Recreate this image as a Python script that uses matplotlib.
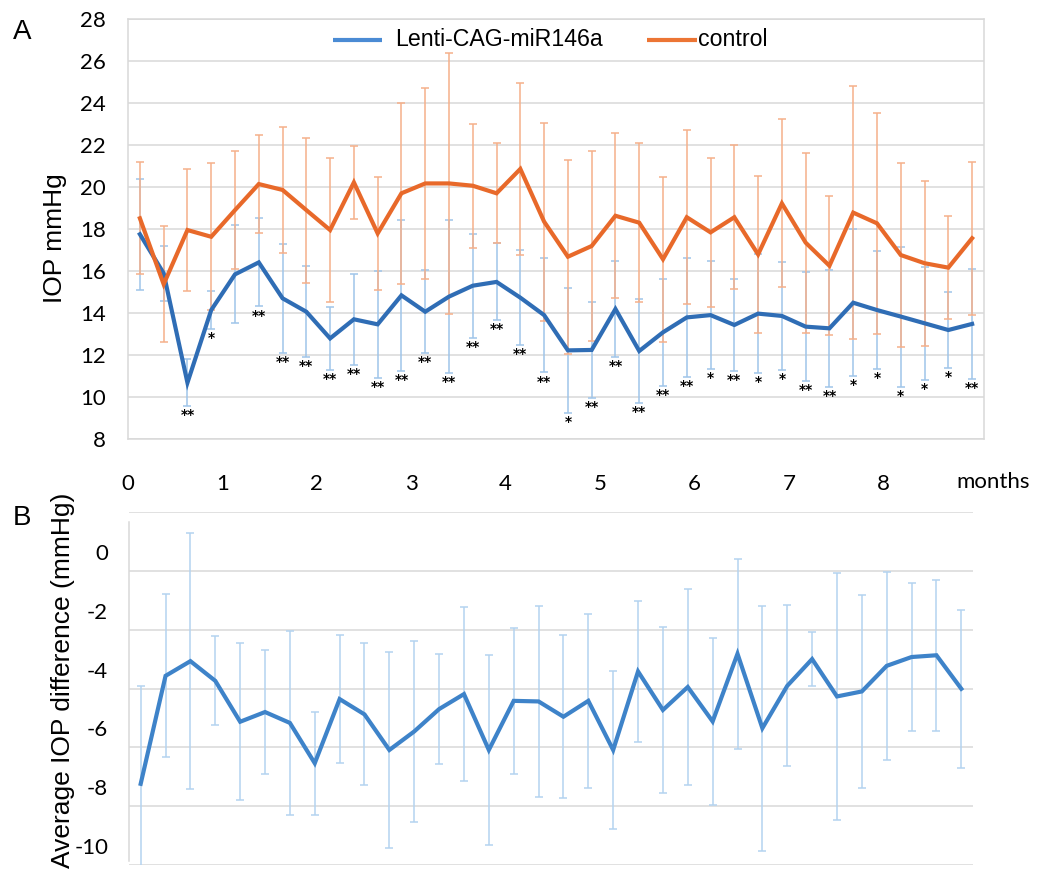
import numpy as np
import matplotlib
matplotlib.use("Agg")
import matplotlib.pyplot as plt
from matplotlib.transforms import ScaledTranslation

# ---- Panel A: weekly IOP of treated vs control eyes ----
miR146a_iop = [17.75, 15.89, 10.68, 14.14, 15.84, 16.41, 14.70, 14.06, 12.79, 13.70,
               13.46, 14.84, 14.06, 14.78, 15.30, 15.48, 14.73, 13.90, 12.22, 12.24,
               14.19, 12.19, 13.08, 13.79, 13.90, 13.43, 13.97, 13.86, 13.35, 13.27,
               14.49, 14.14, 13.83, 13.51, 13.19, 13.48]
miR146a_sd = [2.65, 1.32, 1.11, 0.92, 2.33, 2.10, 2.60, 2.17, 1.50, 2.17,
              2.55, 3.60, 1.98, 3.65, 2.48, 1.83, 2.25, 2.73, 2.96, 2.30,
              2.30, 2.46, 2.55, 2.83, 2.56, 2.17, 2.84, 2.57, 2.60, 2.78,
              3.50, 2.80, 3.33, 2.70, 1.80, 2.62]
control_iop = [18.51, 15.37, 17.95, 17.63, 18.90, 20.14, 19.86, 18.90, 17.95, 20.22,
               17.79, 19.70, 20.17, 20.17, 20.06, 19.70, 20.86, 18.35, 16.68, 17.19,
               18.63, 18.30, 16.56, 18.56, 17.84, 18.56, 16.79, 19.22, 17.35, 16.25,
               18.78, 18.27, 16.76, 16.37, 16.16, 17.56]
control_sd = [2.67, 2.75, 2.90, 3.50, 2.81, 2.33, 3.00, 3.45, 3.43, 1.72,
              2.71, 4.32, 4.55, 6.20, 2.95, 2.38, 4.08, 4.72, 4.62, 4.52,
              3.93, 3.78, 3.93, 4.14, 3.54, 3.42, 3.75, 4.00, 4.29, 3.30,
              6.03, 5.25, 4.37, 3.93, 2.44, 3.65]
significance = ["", "", "**", "*", "", "**", "**", "**", "**", "**",
                "**", "**", "**", "**", "**", "**", "**", "**", "*", "**",
                "**", "**", "**", "**", "*", "**", "*", "*", "**", "**",
                "*", "*", "*", "*", "*", "**"]
month_labels = ["0", "1", "2", "3", "4", "5", "6", "7", "8"]
weeks_per_month = 3.97

# ---- Panel B: average IOP difference ----
iop_difference = [-7.24, -3.57, -3.07, -3.74, -5.13, -4.80, -5.17, -6.54, -4.36, -4.88,
                  -6.09, -5.46, -4.70, -4.19, -6.09, -4.42, -4.44, -4.96, -4.42, -6.09,
                  -3.42, -4.73, -3.95, -5.12, -2.82, -5.35, -3.91, -3.00, -4.27, -4.10,
                  -3.23, -2.93, -2.87, -4.01]
difference_sd = [3.34, 2.77, 4.36, 1.51, 2.67, 2.11, 3.13, 1.75, 2.17, 2.41,
                 3.34, 3.09, 1.86, 2.97, 3.24, 2.47, 3.25, 2.77, 2.96, 2.70,
                 2.39, 2.81, 3.34, 2.84, 3.22, 4.16, 2.74, 0.91, 4.19, 3.29,
                 3.20, 2.52, 2.56, 2.69]

BLUE = "#2F6DB5"
BLUE_LEG = "#4A8BD4"
BLUE_ERR = "#9FC5EA"
ORANGE = "#E8692A"
ORANGE_LEG = "#EC7534"
ORANGE_ERR = "#F5B08A"
B_LINE = "#3E83C9"
B_ERR = "#B4D3F0"
GRID = "#D9D9D9"
TICK_FONT = "Lato"
TEXT_FONT = "Liberation Sans"

W, H = 1041, 869
fig = plt.figure(figsize=(W / 100, H / 100), dpi=100)


def fig_box(left, top, right, bottom):
    return [left / W, 1 - bottom / H, (right - left) / W, (bottom - top) / H]


# ================= Panel A =================
axA = fig.add_axes(fig_box(128, 19, 984, 439))
xa = np.arange(1, len(miR146a_iop) + 1)

axA.errorbar(xa, miR146a_iop, yerr=miR146a_sd, fmt="none", ecolor=BLUE_ERR,
             elinewidth=1.1, capsize=3.2, capthick=1.1, zorder=2)
axA.errorbar(xa, control_iop, yerr=control_sd, fmt="none", ecolor=ORANGE_ERR,
             elinewidth=1.1, capsize=3.2, capthick=1.1, zorder=2)
axA.plot(xa, miR146a_iop, color=BLUE, lw=3.0, solid_joinstyle="miter", zorder=3)
axA.plot(xa, control_iop, color=ORANGE, lw=3.0, solid_joinstyle="miter", zorder=4)

for x, m, s, mark in zip(xa, miR146a_iop, miR146a_sd, significance):
    if mark:
        axA.annotate(mark, (x, m - s), xytext=(0, -1.5), textcoords="offset points",
                     ha="center", va="top", fontsize=10, fontweight="bold",
                     family="DejaVu Sans", color="black", zorder=5)

axA.set_xlim(0.5, len(xa) + 0.5)
axA.set_ylim(8, 28)
axA.set_yticks(np.arange(8, 29, 2))
axA.set_xticks([0.5 + weeks_per_month * i for i in range(len(month_labels))])
axA.set_xticklabels(month_labels)
axA.grid(axis="y", color=GRID, lw=1.1, zorder=0)
axA.set_axisbelow(True)
for sp in axA.spines.values():
    sp.set_color(GRID)
    sp.set_linewidth(1.1)
axA.tick_params(axis="y", length=0, pad=16, labelsize=16)
axA.tick_params(axis="x", length=0, pad=25, labelsize=16)
for lab in axA.get_xticklabels() + axA.get_yticklabels():
    lab.set_family(TICK_FONT)

# legend drawn inside the plot frame
leg_y = 0.951
axA.plot([0.2395, 0.2967], [leg_y, leg_y], transform=axA.transAxes, color=BLUE_LEG,
         lw=3.0, solid_capstyle="butt", clip_on=False, zorder=6)
axA.text(0.3119, leg_y, "Lenti-CAG-miR146a", transform=axA.transAxes, ha="left",
         va="center", fontsize=16.7, family=TEXT_FONT, zorder=6)
axA.plot([0.6063, 0.6647], [leg_y, leg_y], transform=axA.transAxes, color=ORANGE_LEG,
         lw=3.0, solid_capstyle="butt", clip_on=False, zorder=6)
axA.text(0.6655, leg_y, "control", transform=axA.transAxes, ha="left",
         va="center", fontsize=16.7, family=TEXT_FONT, zorder=6)

fig.text(55 / W, 1 - 238 / H, "IOP mmHg", rotation=90, ha="center", va="center",
         fontsize=19, family=TEXT_FONT)
fig.text(993 / W, 1 - 482 / H, "months", ha="center", va="center",
         fontsize=16, family=TICK_FONT)
fig.text(22 / W, 1 - 32 / H, "A", ha="center", va="center", fontsize=20,
         family=TEXT_FONT)
fig.text(22 / W, 1 - 518 / H, "B", ha="center", va="center", fontsize=20,
         family=TEXT_FONT)

# ================= Panel B =================
axB = fig.add_axes(fig_box(129, 512, 973, 865))
xb = np.arange(len(iop_difference))
axB.errorbar(xb, iop_difference, yerr=difference_sd, fmt="none", ecolor=B_ERR,
             elinewidth=1.1, capsize=3.2, capthick=1.1, zorder=2)
axB.plot(xb, iop_difference, color=B_LINE, lw=3.0, solid_joinstyle="miter", zorder=3)
axB.set_xlim(-0.47, len(xb) - 0.53)
axB.set_ylim(-10, 2)
axB.set_yticks(np.arange(-10, 3, 2))
axB.set_yticklabels(["" if v == 2 else str(v) for v in np.arange(-10, 3, 2)])
axB.set_xticks([])
axB.grid(axis="y", color=GRID, lw=1.1, zorder=0)
axB.set_axisbelow(True)
for name in ("top", "right", "bottom"):
    axB.spines[name].set_visible(False)
axB.spines["left"].set_color(GRID)
axB.spines["left"].set_linewidth(1.1)
axB.spines["left"].set_bounds(-9.85, 1.65)
axB.tick_params(axis="y", length=0, pad=15, labelsize=16)
shift = ScaledTranslation(0, 0.19, fig.dpi_scale_trans)
for lab in axB.get_yticklabels():
    lab.set_family(TICK_FONT)
    lab.set_transform(lab.get_transform() + shift)

fig.text(63 / W, 1 - 680 / H, "Average IOP difference (mmHg)", rotation=90,
         ha="center", va="center", fontsize=19, family=TEXT_FONT)

fig.savefig("out.png", dpi=100)
